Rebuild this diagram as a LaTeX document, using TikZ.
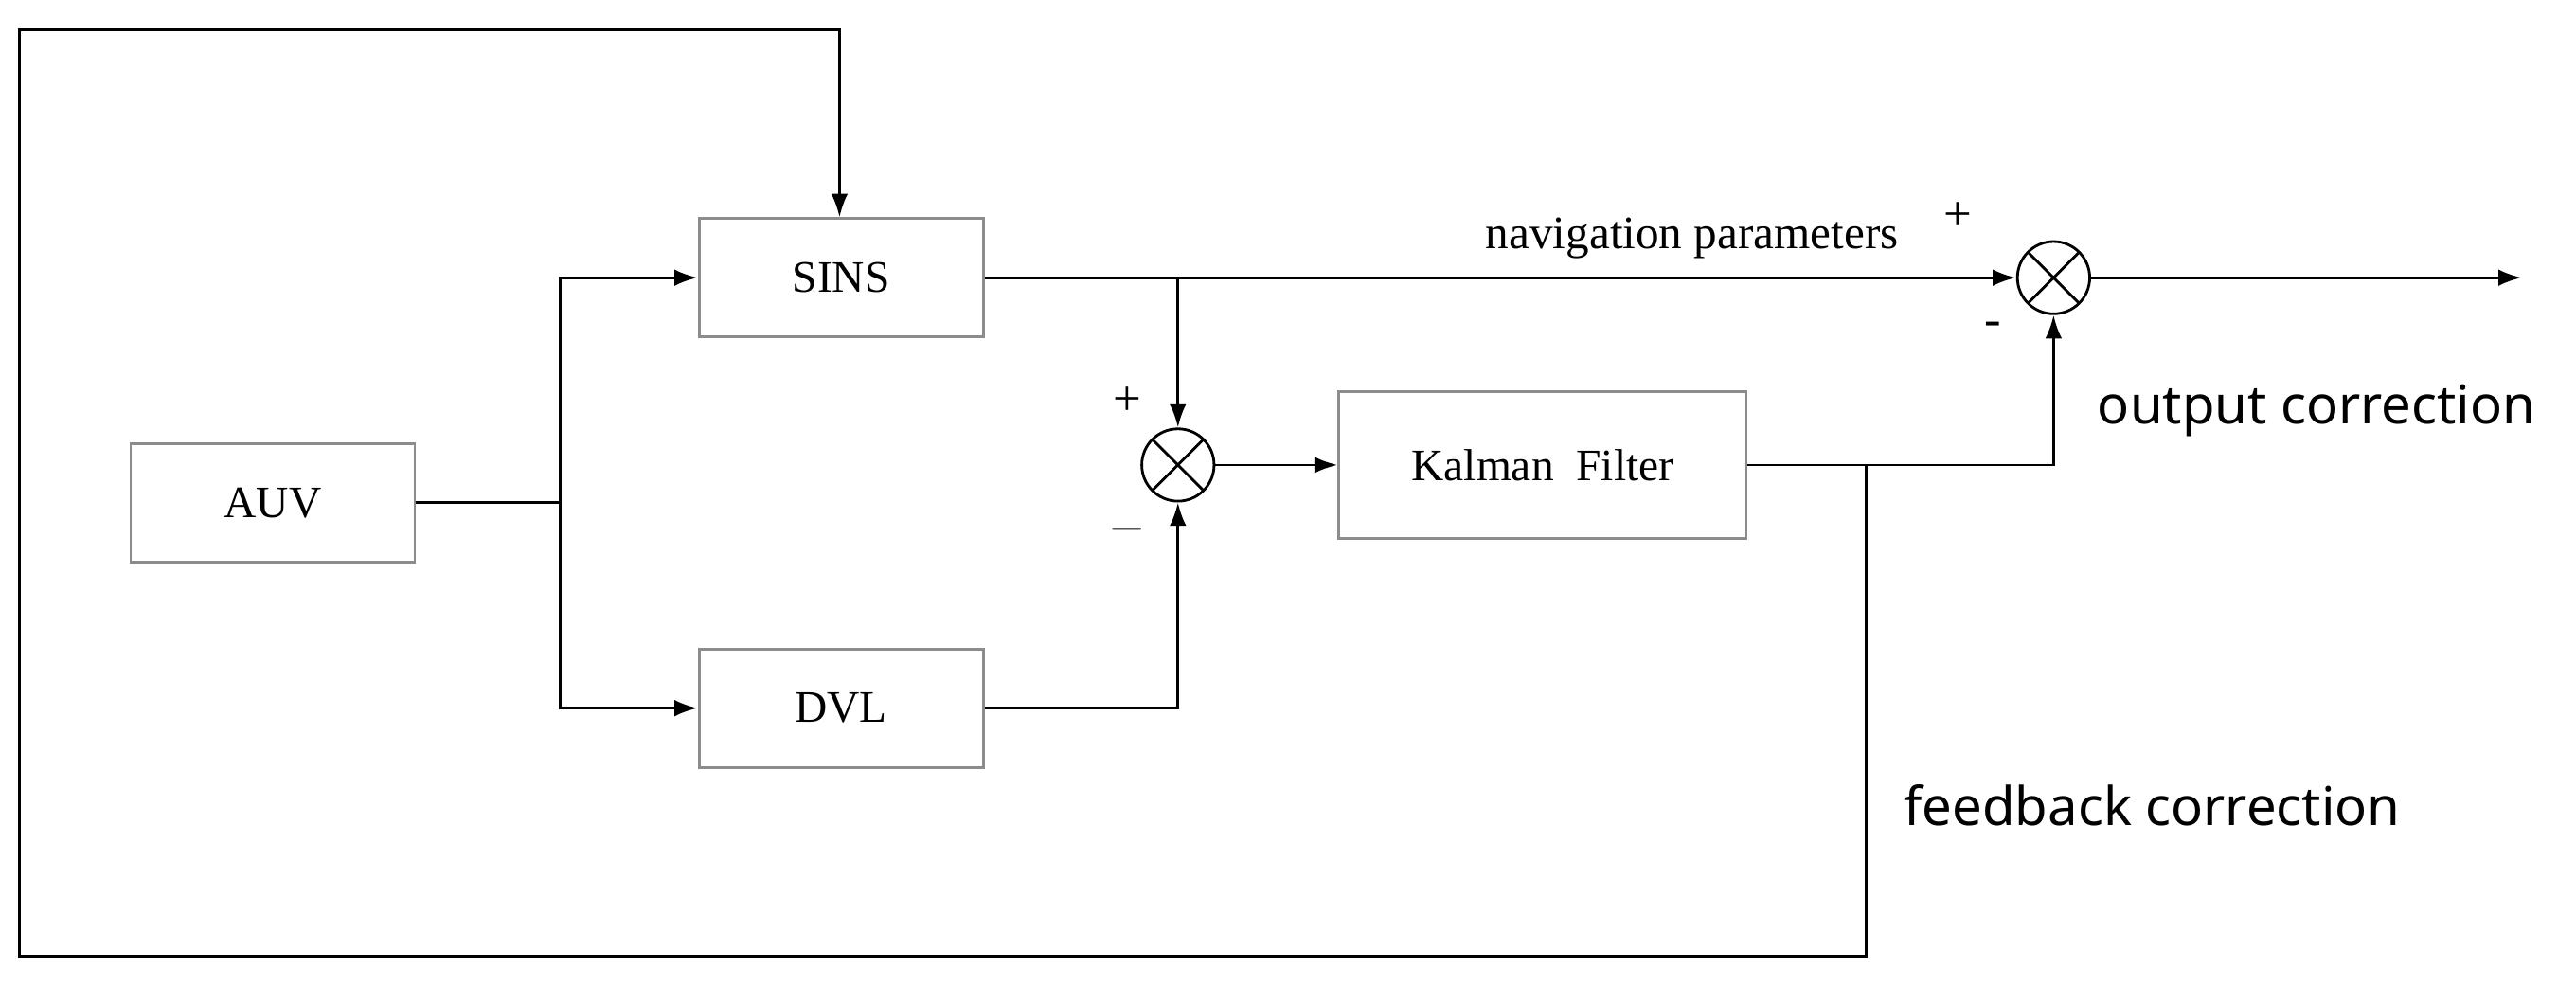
\documentclass[tikz,border=0pt]{standalone}
\usepackage{fontspec}
\setmainfont{Liberation Serif}
\newfontfamily\lblsans{Noto Sans}
\usetikzlibrary{arrows.meta}
\begin{document}
\begin{tikzpicture}[x=0.01735cm,y=-0.01735cm,
  box/.style={draw=black!45,line width=0.8pt,minimum width=173*0.01735cm,minimum height=72*0.01735cm,inner sep=0pt,font=\fontsize{13.5}{15}\selectfont},
  sum/.style={draw,circle,line width=0.8pt,minimum size=44*0.01735cm,inner sep=0pt,path picture={\draw[line width=0.8pt] (path picture bounding box.north west)--(path picture bounding box.south east) (path picture bounding box.north east)--(path picture bounding box.south west);}},
  arr/.style={-{Latex[length=7pt,width=5pt]},line width=0.8pt},
  ln/.style={line width=0.8pt},
  lbl/.style={font=\lblsans\fontsize{16}{19}\selectfont},
  sg/.style={font=\fontsize{15}{17}\selectfont}]
\useasboundingbox (0,0) rectangle (1568,600);
\node[box] (sins) at (512,169) {SINS};
\node[box] (dvl) at (512,431) {DVL};
\node[box] (auv) at (166,306) {AUV};
\node[box,minimum width=248*0.01735cm,minimum height=89*0.01735cm] (kf) at (939,283) {Kalman\ \ Filter};
\node[sum] (s1) at (717,283) {};
\node[sum] (s2) at (1250,169) {};
\coordinate (br) at (341,306);
\coordinate (out) at (1535,169);
\coordinate (fb) at (1136,283);
\draw[ln] (auv.east) -- (br);
\draw[arr] (br) |- (sins.west);
\draw[arr] (br) |- (dvl.west);
\draw[arr] (sins.east) -- (s2.west);
\draw[arr] (sins.east -| s1.north) -- (s1.north);
\draw[arr] (dvl.east) -| (s1.south);
\draw[arr] (s1.east) -- (kf.west);
\draw[arr] (kf.east) -| (s2.south);
\draw[arr] (s2.east) -- (out);
\draw[arr] (fb) -- (1136,582) -- (12,582) -- (12,18) -- (511,18) -- (sins.north -| 511,0);
\node[sg] at (686,244) {+};
\node[sg] at (686,322) {$-$};
\node[sg] at (1192,132) {+};
\node[sg] at (1213,200) {-};
\node[font=\fontsize{14}{16}\selectfont] at (1030,145) {navigation parameters};
\node[lbl] at (1410,250) {output correction};
\node[lbl] at (1310,490) {feedback correction};
\end{tikzpicture}
\end{document}
